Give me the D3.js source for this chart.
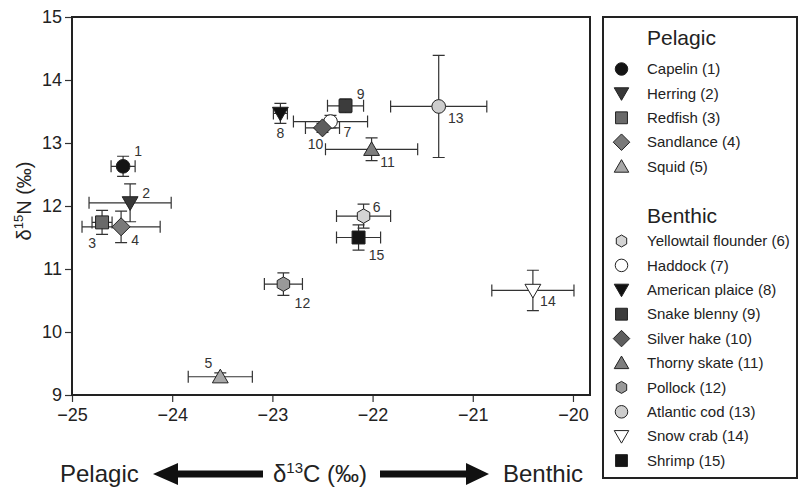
<!DOCTYPE html>
<html>
<head>
<meta charset="utf-8">
<style>
  body { margin: 0; background: #fff; }
  svg { display: block; font-family: 'Liberation Sans', Arial, sans-serif; }
</style>
</head>
<body>
<svg width="798" height="489"></svg>
<script src="https://d3js.org/d3.v7.min.js"></script>
<script>
// species data: d13C mean/sd, d15N mean/sd
const species = ["Capelin", "Herring", "Redfish", "Sandlance", "Squid",
  "Yellowtail flounder", "Haddock", "American plaice", "Snake blenny", "Silver hake",
  "Thorny skate", "Pollock", "Atlantic cod", "Snow crab", "Shrimp"];
const habitat = ["Pelagic", "Pelagic", "Pelagic", "Pelagic", "Pelagic",
  "Benthic", "Benthic", "Benthic", "Benthic", "Benthic",
  "Benthic", "Benthic", "Benthic", "Benthic", "Benthic"];
const carbon = [-24.49, -24.42, -24.70, -24.51, -23.52, -22.09, -22.42, -22.92, -22.27, -22.50, -22.01, -22.89, -21.34, -20.40, -22.14];
const carbonErr = [0.12, 0.41, 0.10, 0.39, 0.32, 0.27, 0.37, 0.07, 0.18, 0.17, 0.46, 0.19, 0.48, 0.41, 0.22];
const nitrogen = [12.63, 12.05, 11.74, 11.67, 9.29, 11.84, 13.34, 13.47, 13.59, 13.24, 12.90, 10.76, 13.58, 10.66, 11.50];
const nitrogenErr = [0.16, 0.30, 0.19, 0.25, 0.06, 0.19, 0.10, 0.16, 0.11, 0.07, 0.18, 0.18, 0.81, 0.32, 0.20];
const shapes = ["circle", "down", "square", "diamond", "up", "hexagon", "circle", "down", "square", "diamond", "up", "hexagon", "circle", "down", "square"];
const fills = ["#141414", "#383838", "#6a6a6a", "#7a7a7a", "#a8a8a8", "#d4d4d4", "#ffffff", "#111111", "#3c3c3c", "#5e5e5e", "#7e7e7e", "#999999", "#cdcdcd", "#ffffff", "#151515"];
// label offsets relative to the marker (pixels)
const labelOffsets = [[15, -15], [16, -10], [-10, 21], [14, 13], [-12, -14], [13, -9], [17, 10], [0, 20], [15, -12], [-7, 16], [16, 13], [19, 19], [17, 11], [15, 11], [18, 17]];
const xTicks = [-25, -24, -23, -22, -21, -20];
const yTicks = [9, 10, 11, 12, 13, 14, 15];

const data = species.map((name, i) => ({
  id: i + 1, name, habitat: habitat[i], x: carbon[i], xe: carbonErr[i],
  y: nitrogen[i], ye: nitrogenErr[i], shape: shapes[i], fill: fills[i], off: labelOffsets[i]
}));

const svg = d3.select("svg");
const plot = { left: 72, top: 17, right: 590, bottom: 395 };

const x = d3.scaleLinear().domain([-25, -19.83]).range([plot.left, plot.right]);
const y = d3.scaleLinear().domain([9, 15]).range([plot.bottom, plot.top]);

function symbolPath(shape, s) {
  if (shape === "circle") {
    const r = s * 0.95;
    return `M${r},0A${r},${r} 0 1,1 ${-r},0A${r},${r} 0 1,1 ${r},0Z`;
  }
  if (shape === "square") { const h = s * 0.9; return `M${-h},${-h}H${h}V${h}H${-h}Z`; }
  if (shape === "diamond") { const h = s * 1.25; return `M0,${-h}L${h},0L0,${h}L${-h},0Z`; }
  if (shape === "up") { const w = s * 1.1; return `M0,${-s * 1.05}L${w},${s * 0.85}L${-w},${s * 0.85}Z`; }
  if (shape === "down") { const w = s * 1.1; return `M0,${s * 1.05}L${w},${-s * 0.85}L${-w},${-s * 0.85}Z`; }
  if (shape === "hexagon") {
    const pts = d3.range(6).map(k => {
      const a = Math.PI / 2 + k * Math.PI / 3;
      return [s * Math.cos(a), s * Math.sin(a)];
    });
    return "M" + pts.map(p => p.join(",")).join("L") + "Z";
  }
}

// axes
const xAxis = svg.append("g")
  .attr("transform", `translate(0,${plot.bottom})`)
  .call(d3.axisBottom(x).tickValues(xTicks).tickSize(7).tickPadding(6).tickFormat(d => d3.format("d")(d).replace("-", "\u2212")));
const yAxis = svg.append("g")
  .attr("transform", `translate(${plot.left},0)`)
  .call(d3.axisLeft(y).tickValues(yTicks).tickSize(7).tickPadding(3).tickFormat(d3.format("d")));
[xAxis, yAxis].forEach(g => {
  g.select(".domain").remove();
  g.selectAll(".tick line").attr("stroke", "#333").attr("stroke-width", 1.2);
  g.selectAll(".tick text").attr("fill", "#222").attr("font-size", 18)
    .attr("font-family", "'Liberation Sans', Arial, sans-serif");
});

// frame
svg.append("rect")
  .attr("x", plot.left).attr("y", plot.top)
  .attr("width", plot.right - plot.left).attr("height", plot.bottom - plot.top)
  .attr("fill", "none").attr("stroke", "#222").attr("stroke-width", 2);

// error bars
const cap = 6;
const bars = svg.append("g").attr("stroke", "#333").attr("stroke-width", 1.2).attr("fill", "none");
data.forEach(d => {
  const cx = x(d.x), cy = y(d.y);
  const x0 = x(d.x - d.xe), x1 = x(d.x + d.xe);
  const y0 = y(d.y + d.ye), y1 = y(d.y - d.ye);
  bars.append("path").attr("d",
    `M${x0},${cy}H${x1}M${x0},${cy - cap}V${cy + cap}M${x1},${cy - cap}V${cy + cap}` +
    `M${cx},${y0}V${y1}M${cx - cap},${y0}H${cx + cap}M${cx - cap},${y1}H${cx + cap}`);
});

// markers
svg.append("g").selectAll("path")
  .data(data)
  .join("path")
  .attr("transform", d => `translate(${x(d.x)},${y(d.y)})`)
  .attr("d", d => symbolPath(d.shape, 7.2))
  .attr("fill", d => d.fill)
  .attr("stroke", "#222")
  .attr("stroke-width", 1);

// number labels
svg.append("g").selectAll("text")
  .data(data)
  .join("text")
  .attr("x", d => x(d.x) + d.off[0])
  .attr("y", d => y(d.y) + d.off[1])
  .attr("dy", "0.36em")
  .attr("text-anchor", "middle")
  .attr("font-size", 14)
  .attr("fill", "#333")
  .text(d => d.id);

// y axis title
const yt = svg.append("text")
  .attr("transform", "translate(31,201) rotate(-90)")
  .attr("text-anchor", "middle")
  .attr("font-size", 20)
  .attr("fill", "#222");
yt.append("tspan").text("\u03b4");
yt.append("tspan").attr("font-size", 13).attr("dy", -8).text("15");
yt.append("tspan").attr("dy", 8).text("N (\u2030)");

// bottom arrows + labels
const arrowY = 474;
svg.append("path")
  .attr("d", `M153,${arrowY}L178,${arrowY - 11}V${arrowY - 3.5}H263V${arrowY + 3.5}H178V${arrowY + 11}Z`)
  .attr("fill", "#111");
svg.append("path")
  .attr("d", `M489,${arrowY}L466,${arrowY - 11}V${arrowY - 3.5}H380V${arrowY + 3.5}H466V${arrowY + 11}Z`)
  .attr("fill", "#111");
svg.append("text").attr("x", 60).attr("y", 482).attr("font-size", 24).attr("fill", "#222").text("Pelagic");
svg.append("text").attr("x", 503).attr("y", 482).attr("font-size", 24).attr("fill", "#222").text("Benthic");
const xt = svg.append("text").attr("x", 320).attr("y", 482).attr("text-anchor", "middle")
  .attr("font-size", 24).attr("fill", "#222");
xt.append("tspan").text("\u03b4");
xt.append("tspan").attr("font-size", 15).attr("dy", -9).text("13");
xt.append("tspan").attr("dy", 9).text("C (\u2030)");

// legend
const legend = svg.append("g");
legend.append("rect")
  .attr("x", 603).attr("y", 17).attr("width", 194).attr("height", 461)
  .attr("fill", "none").attr("stroke", "#222").attr("stroke-width", 2);

const groups = ["Pelagic", "Benthic"];
const headerY = [45, 223];
const firstRow = [69, 241];
const rowStep = 24.4;
groups.forEach((g, gi) => {
  legend.append("text").attr("x", 647).attr("y", headerY[gi])
    .attr("font-size", 21).attr("fill", "#222").text(g);
  const items = data.filter(d => d.habitat === g);
  items.forEach((d, k) => {
    const cy = firstRow[gi] + k * rowStep;
    legend.append("path")
      .attr("transform", `translate(621.5,${cy})`)
      .attr("d", symbolPath(d.shape, d.shape === "hexagon" ? 6 : 6.6))
      .attr("fill", d.fill).attr("stroke", "#222").attr("stroke-width", 1);
    legend.append("text").attr("x", 647).attr("y", cy).attr("dy", "0.35em")
      .attr("font-size", 15).attr("fill", "#222").text(`${d.name} (${d.id})`);
  });
});
</script>
</body>
</html>
